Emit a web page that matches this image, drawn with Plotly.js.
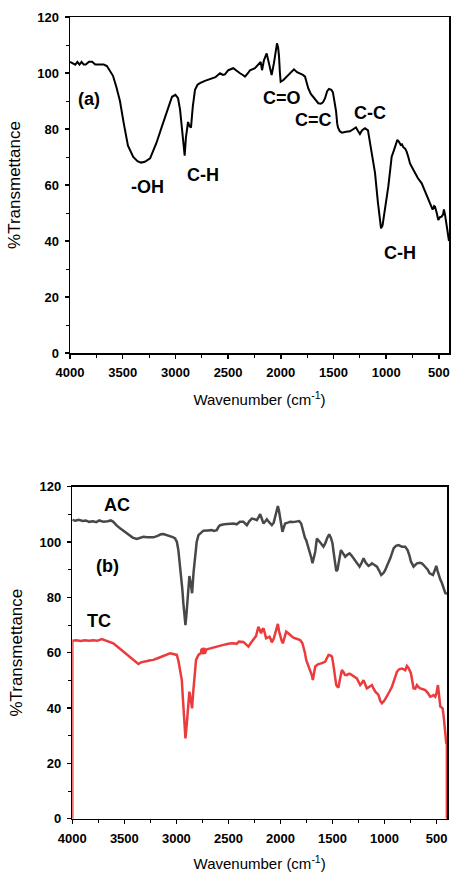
<!DOCTYPE html>
<html>
<head>
<meta charset="utf-8">
<script src="https://cdn.plot.ly/plotly-3.0.1.min.js"></script>
<style>html,body{margin:0;padding:0;background:#fff;}#chart{width:451px;height:872px;}</style>
</head>
<body>
<div id="chart"></div>
<script>
// ---- Panel (a) ----
const wnA = [4000,3970,3950,3930,3910,3890,3870,3850,3820,3790,3760,3720,3680,3650,3620,3592,3560,3526,3490,3450,3400,3360,3326,3290,3240,3180,3118,3070,3032,3000,2975,2956,2935,2918,2912,2900,2880,2866,2852,2835,2814,2790,2767,2720,2672,2620,2577,2548,2530,2498,2451,2418,2387,2360,2340,2310,2292,2245,2213,2191,2178,2160,2134,2120,2109,2087,2065,2050,2036,2025,2017,2008,2001,1975,1944,1910,1875,1846,1818,1790,1770,1739,1715,1692,1670,1644,1620,1600,1580,1560,1543,1520,1505,1490,1476,1465,1457,1440,1420,1380,1344,1310,1287,1270,1249,1230,1201,1173,1154,1130,1106,1078,1060,1049,1035,1021,1000,980,960,948,930,916,894,880,862,850,838,820,806,790,774,750,727,700,663,630,600,580,559,545,537,520,506,490,474,460,452,440,433,420,411,404];
const tA  = [104,103.5,103,104,103,104,103,103,104,104,103,103,103,102.5,100.5,99,95,90,82,74,70,68.5,68,68.3,69.5,75,82,87.5,91.5,92.2,91,87,79,71,70.5,77,82.5,81,80.5,88,94,95.8,96.4,97.2,97.7,98.5,99.9,99.3,99.5,101,101.7,100.7,99.9,99.3,98.7,100,101,101.7,102.9,104,101,104.5,107,105,103.5,99.3,103.5,107,110.6,109,106,99.9,96.9,97.5,98.7,100,101.3,100.3,99.9,99.3,98.7,94.5,92.5,91.5,90.3,89.2,89,89.5,91,93.5,94.3,94,93,90,86.5,82,80.5,79.2,78.7,79,79.2,80,80.6,79.5,78.2,79.5,80.3,79.5,75,70,64.3,53.6,47,44.5,45.5,48.7,54,59.4,66,70.1,72,73.7,76.1,75.5,74.3,74.5,73.5,73,71.9,70,67.7,66,64.2,62.5,60.6,57.5,54.6,53,51.2,52.5,52.3,50,47.5,48.5,48.7,49.5,51.3,49,47.5,44,42,40];

// ---- Panel (b) ----
const wnAC = [4000,3970,3940,3900,3870,3840,3800,3770,3740,3700,3660,3630,3606,3575,3541,3500,3462,3420,3381,3350,3317,3280,3250,3221,3180,3150,3125,3090,3061,3035,3013,2995,2981,2968,2955,2943,2933,2920,2913,2905,2894,2884,2875,2862,2849,2835,2820,2805,2788,2760,2740,2700,2660,2640,2612,2595,2580,2540,2500,2452,2420,2390,2356,2340,2323,2300,2275,2250,2227,2210,2195,2180,2163,2145,2131,2105,2083,2065,2051,2038,2025,2015,2003,1990,1981,1970,1955,1930,1907,1880,1860,1842,1820,1801,1790,1779,1765,1753,1740,1721,1705,1692,1680,1666,1650,1630,1610,1587,1570,1550,1532,1515,1500,1490,1478,1464,1452,1440,1419,1400,1378,1355,1336,1315,1298,1270,1240,1220,1202,1180,1154,1135,1121,1100,1073,1050,1032,1010,993,970,945,913,890,865,845,833,801,779,760,746,721,705,689,660,641,625,609,585,567,535,520,503,490,481,465,448,430,416,400];
const tAC = [108,107.7,108,107.6,107.8,107.3,107.5,107.2,107.8,107.3,107.5,107.8,107.3,106,105,103.8,102.5,101.6,101.1,101.5,101.9,101.7,101.8,101.7,102.2,102.8,102.9,102.5,102.3,101.8,101.3,100,97.1,93,88.7,83,77.8,72,70,73,77.8,84,87.7,85,81.5,89,95.9,100,102.5,103.6,104.1,104.2,104.3,104,104.3,105.5,106.1,106.4,106.5,106.7,106.4,107.3,107.3,106.5,106.1,107.5,108.5,108.3,107.9,109,110.1,108.5,106.7,107.5,108.2,107,106.1,107,109,111,113,111.5,109,105.5,103.7,105,106.7,107,107.3,107.2,107.4,107.6,107.6,106.7,105,103.1,101.5,100.7,99,97.1,94.5,92.3,94,96.5,101.3,100.5,99.5,98.3,99.5,101.5,102.8,101.5,99.5,96.5,92.5,89.5,90,93,97.1,96,94.7,95.5,95.9,95,94.1,92.5,91.1,92.5,94.1,92.5,91.4,91.8,92.3,91.8,91.1,89.5,88.1,88.8,89.9,92,94.1,97.7,98.6,98.9,98.5,98.3,98.3,97.1,95,92.9,91.1,91.8,92.3,92.5,92.3,91.7,91.1,90,88.7,88.1,89.5,91.4,89.5,88.1,86.5,85.1,83,81.5,81.4];

const wnTC = [4000,4000,3960,3920,3880,3840,3800,3760,3717,3690,3660,3640,3606,3560,3510,3460,3413,3365,3340,3317,3280,3250,3221,3180,3150,3125,3090,3061,3030,2996,2980,2964,2948,2940,2933,2922,2913,2905,2894,2884,2875,2862,2849,2840,2830,2811,2788,2765,2740,2700,2650,2612,2570,2530,2490,2452,2420,2400,2356,2330,2308,2285,2260,2235,2212,2200,2186,2175,2163,2150,2138,2120,2106,2095,2083,2065,2051,2038,2025,2015,2003,1990,1977,1960,1945,1925,1907,1880,1859,1830,1811,1790,1779,1765,1753,1740,1731,1714,1700,1689,1678,1666,1640,1618,1595,1570,1555,1538,1520,1506,1495,1490,1475,1464,1450,1442,1425,1410,1395,1380,1362,1345,1330,1300,1266,1250,1234,1218,1202,1185,1170,1145,1121,1105,1089,1070,1058,1040,1025,1000,977,955,929,905,881,860,833,815,801,785,770,746,735,721,705,689,672,657,630,609,585,561,545,529,513,500,487,478,464,452,442,432,423,415,407,401,401];
const tTC = [0,64.3,64.5,64.2,64.5,64.3,64.5,64.3,64.9,64.5,64,63.8,63.4,62,60.4,59,57.4,55.9,56.5,56.8,57,57.3,57.4,58,58.5,58.8,59.5,59.8,59.5,59.2,57,53.7,50.1,45,40.5,34,29,32,36.9,42,45.9,43,39.9,45,50.1,57.4,59.2,60,60.6,61.3,61.8,62.2,62.8,63,63.3,63.4,63.2,64,63.9,63,62.2,63.5,64.6,66,69.4,68,67,68.3,68.8,67,65.2,65.5,65.8,65,63.7,65,67,69,70.4,68,65.8,64.5,63.4,65.5,67.6,67,66.4,65.5,65.2,64.8,64.6,63.5,62.2,60,57.4,56,55,53.7,52,50.1,53,55,55.8,56,56.3,56.8,58,59.2,59,58.6,56.5,55,51,48.3,47.6,47.7,51,53.7,53,52,51.9,52.4,52.3,51.5,50.7,49.5,48.3,49,50.1,48.5,47.1,47.7,48.3,47,45.9,45.2,44.7,42.5,41.7,42.8,44.1,45.8,47.7,50.5,53.1,54,54.3,54,53.7,55.2,54.5,52.5,50,47.1,47,48.3,47.5,47.1,46.8,46.5,45.5,44.1,44.3,44.7,44.1,45.5,48.3,45,40.5,40.2,39.9,37,33.2,30,27.3,27,0];

const dotWn = [2740];
const dotT = [60.6];

const xTicks = [4000,3500,3000,2500,2000,1500,1000,500];
const yTicks = [0,20,40,60,80,100,120];

const tickFont = {family: 'Liberation Sans, Arial, sans-serif', size: 13, color: '#000', weight: 'bold'};
const titleFont = {family: 'Liberation Sans, Arial, sans-serif', size: 15, color: '#000'};
const ytitleFont = {family: 'Liberation Sans, Arial, sans-serif', size: 17, color: '#000'};
const annFont = {family: 'Liberation Sans, Arial, sans-serif', size: 18, color: '#000', weight: 'bold'};

function xax(domain, range, anchor) {
  return {
    domain: domain, range: range, anchor: anchor,
    tickmode: 'array', tickvals: xTicks, ticktext: xTicks.map(String),
    ticks: 'outside', ticklen: 4, tickwidth: 1.5, tickcolor: '#000',
    minor: {dtick: 250, tick0: 0, ticks: 'outside', ticklen: 3, tickwidth: 1, tickcolor: '#000'},
    showline: true, linecolor: '#000', linewidth: 1.5, mirror: true,
    showgrid: false, zeroline: false, tickfont: tickFont, ticklabelstandoff: 3,
    title: {text: 'Wavenumber (cm<sup>-1</sup>)', font: titleFont, standoff: 15}
  };
}
function yax(domain, anchor) {
  return {
    domain: domain, range: [0, 120], anchor: anchor,
    tickmode: 'array', tickvals: yTicks, ticktext: yTicks.map(String),
    ticks: 'outside', ticklen: 4, tickwidth: 1.5, tickcolor: '#000',
    minor: {dtick: 10, tick0: 0, ticks: 'outside', ticklen: 3, tickwidth: 1, tickcolor: '#000'},
    showline: true, linecolor: '#000', linewidth: 1.5, mirror: true,
    showgrid: false, zeroline: false, tickfont: tickFont, ticklabelstandoff: 3,
    title: {text: '%Transmettance', font: ytitleFont, standoff: 12},
    layer: 'below traces'
  };
}

const traces = [
  {x: wnA, y: tA, xaxis: 'x', yaxis: 'y', type: 'scatter', mode: 'lines', line: {color: '#000', width: 2}, showlegend: false},
  {x: wnAC, y: tAC, xaxis: 'x2', yaxis: 'y2', type: 'scatter', mode: 'lines', line: {color: '#484848', width: 2.5}, showlegend: false},
  {x: wnTC, y: tTC, xaxis: 'x2', yaxis: 'y2', type: 'scatter', mode: 'lines', line: {color: '#ec3b3d', width: 2.5}, showlegend: false},
  {x: dotWn, y: dotT, xaxis: 'x2', yaxis: 'y2', type: 'scatter', mode: 'markers', marker: {color: '#ec3b3d', size: 7}, showlegend: false}
];

const W = 451, H = 872;
const layout = {
  width: W, height: H,
  margin: {l: 70, r: 2, t: 0, b: 0},
  paper_bgcolor: '#fff', plot_bgcolor: '#fff',
  showlegend: false,
  xaxis: xax([0, 1], [4000, 404], 'y'),
  yaxis: yax([1 - 353/H, 1 - 17/H], 'x'),
  xaxis2: xax([(72.3-70)/379, (447-70)/379], [4000, 400], 'y2'),
  yaxis2: yax([1 - 818.7/H, 1 - 486.7/H], 'x2'),
  annotations: [
    {text: '(a)', x: 3820, y: 90.7, xref: 'x', yref: 'y', showarrow: false, font: annFont},
    {text: '-OH', x: 3269, y: 59.3, xref: 'x', yref: 'y', showarrow: false, font: annFont},
    {text: 'C-H', x: 2738, y: 63.6, xref: 'x', yref: 'y', showarrow: false, font: annFont},
    {text: 'C=O', x: 1989, y: 91.1, xref: 'x', yref: 'y', showarrow: false, font: annFont},
    {text: 'C=C', x: 1685, y: 83.2, xref: 'x', yref: 'y', showarrow: false, font: annFont},
    {text: 'C-C', x: 1154, y: 85.7, xref: 'x', yref: 'y', showarrow: false, font: annFont},
    {text: 'C-H', x: 869, y: 35.7, xref: 'x', yref: 'y', showarrow: false, font: annFont},
    {text: 'AC', x: 3570, y: 113.4, xref: 'x2', yref: 'y2', showarrow: false, font: annFont},
    {text: '(b)', x: 3666, y: 91.3, xref: 'x2', yref: 'y2', showarrow: false, font: annFont},
    {text: 'TC', x: 3743, y: 71.5, xref: 'x2', yref: 'y2', showarrow: false, font: annFont}
  ]
};

Plotly.newPlot('chart', traces, layout, {displayModeBar: false, staticPlot: true});
</script>
</body>
</html>
